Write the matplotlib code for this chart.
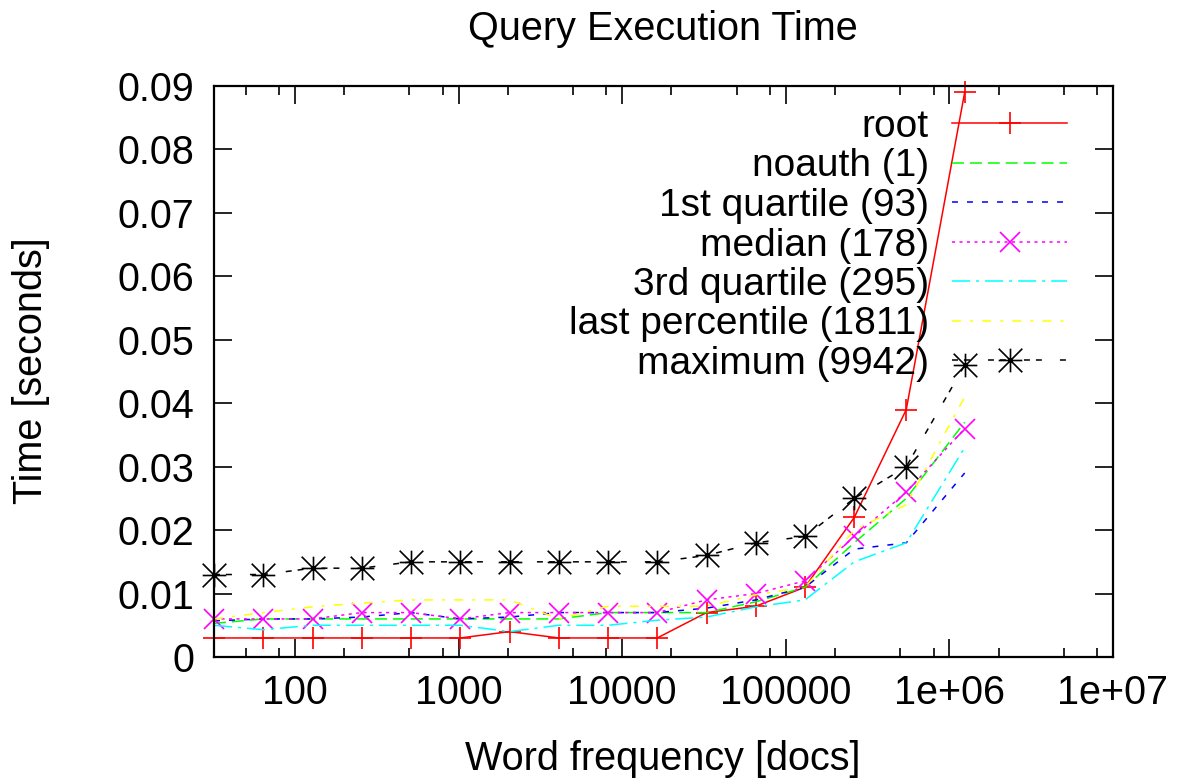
import matplotlib
matplotlib.use("Agg")
import matplotlib.pyplot as plt
from matplotlib.path import Path
from matplotlib.ticker import LogLocator, NullFormatter, FixedLocator

plt.rcParams['font.family'] = ['Liberation Sans', 'DejaVu Sans']
plt.rcParams['lines.scale_dashes'] = False

# word frequency bins (docs)
freq = [32, 64, 128, 256, 512, 1024, 2048, 4096, 8192, 16384, 32768,
        65536, 131072, 262144, 545000, 1240000]

# query times in seconds
root = [0.003, 0.003, 0.003, 0.003, 0.003, 0.003, 0.004, 0.003, 0.003, 0.003,
        0.007, 0.008, 0.011, 0.022, 0.039, 0.089]
noauth = [0.0053, 0.006, 0.006, 0.006, 0.006, 0.006, 0.006, 0.006, 0.007, 0.007,
          0.007, 0.0087, 0.011, 0.018, 0.025, 0.037]
q1 = [0.0057, 0.006, 0.006, 0.0063, 0.007, 0.006, 0.0063, 0.007, 0.007, 0.007,
      0.0077, 0.009, 0.011, 0.017, 0.018, 0.029]
median = [0.006, 0.006, 0.006, 0.007, 0.007, 0.006, 0.007, 0.007, 0.007, 0.007,
          0.009, 0.010, 0.012, 0.019, 0.026, 0.036]
q3 = [0.005, 0.0043, 0.005, 0.005, 0.005, 0.005, 0.004, 0.005, 0.005, 0.0058,
      0.0063, 0.0079, 0.009, 0.015, 0.018, 0.033]
p99 = [0.006, 0.007, 0.0079, 0.0085, 0.009, 0.009, 0.009, 0.006, 0.008, 0.008,
       0.008, 0.0098, 0.011, 0.020, 0.024, 0.041]
maximum = [0.013, 0.013, 0.014, 0.014, 0.015, 0.015, 0.015, 0.015, 0.015, 0.015,
           0.016, 0.018, 0.019, 0.025, 0.030, 0.046]

labels = ['root', 'noauth (1)', '1st quartile (93)', 'median (178)',
          '3rd quartile (295)', 'last percentile (1811)', 'maximum (9942)']

xticks = [100, 1000, 10000, 100000, 1e6, 1e7]
xticklabels = ['100', '1000', '10000', '100000', '1e+06', '1e+07']
yticks = [0, 0.01, 0.02, 0.03, 0.04, 0.05, 0.06, 0.07, 0.08, 0.09]
yticklabels = ['0', '0.01', '0.02', '0.03', '0.04', '0.05', '0.06', '0.07', '0.08', '0.09']

# gnuplot style asterisk = plus + cross
star = Path([(-1, 0), (1, 0), (0, -1), (0, 1), (-1, -1), (1, 1), (-1, 1), (1, -1)],
            [Path.MOVETO, Path.LINETO] * 4)

W, H = 1184, 779
fig = plt.figure(figsize=(W / 100, H / 100), dpi=100)
ax = fig.add_axes([214 / W, 1 - 657 / H, (1113 - 214) / W, (657 - 86) / H])

FS = 28.5
lw = 1.1
ax.plot(freq, root, color='#ff0000', lw=lw, marker='+', ms=16, mew=1.2,
        label=labels[0], clip_on=False)
ax.plot(freq, noauth, color='#00ff00', lw=lw, dashes=(8.6, 4.3), label=labels[1])
ax.plot(freq, q1, color='#0000ff', lw=lw, dashes=(4.3, 6.5), label=labels[2])
ax.plot(freq, median, color='#ff00ff', lw=lw, dashes=(2.2, 3.2), marker='x', ms=14,
        mew=1.2, label=labels[3], clip_on=False)
ax.plot(freq, q3, color='#00ffff', lw=lw, dashes=(13, 4.3, 2.2, 4.3), label=labels[4])
ax.plot(freq, p99, color='#ffff00', lw=lw, dashes=(6.5, 6.5, 2.2, 6.5), label=labels[5])
ax.plot(freq, maximum, color='#000000', lw=lw, dashes=(4.3, 4.3, 4.3, 13), marker=star,
        ms=17, mew=1.2, label=labels[6], clip_on=False)

ax.set_xscale('log')
ax.set_xlim(32, 1e7)
ax.set_ylim(0, 0.09)
ax.xaxis.set_major_locator(FixedLocator(xticks))
ax.set_xticklabels(xticklabels)
ax.xaxis.set_minor_locator(LogLocator(base=10, subs=(2, 5, 8)))
ax.xaxis.set_minor_formatter(NullFormatter())
ax.set_yticks(yticks)
ax.set_yticklabels(yticklabels)

ax.tick_params(which='both', direction='in', top=True, right=True, labelsize=FS)
ax.tick_params(which='major', length=13, width=1.2)
ax.tick_params(which='minor', length=6.5, width=1.2)
ax.tick_params(axis='x', pad=12)
ax.tick_params(axis='y', pad=14)
for s in ax.spines.values():
    s.set_linewidth(1.6)

fig.text(663 / W, 1 - 40 / H, 'Query Execution Time', ha='center', va='baseline', fontsize=FS)
fig.text(663 / W, 1 - 770 / H, 'Word frequency [docs]', ha='center', va='baseline', fontsize=FS)
fig.text(31 / W, 1 - 371 / H, 'Time [seconds]', ha='center', va='center',
         rotation=90, fontsize=FS)

ax.legend(loc='upper right', bbox_to_anchor=(1067 / W, 1 - 109 / H),
          bbox_transform=fig.transFigure, frameon=False, markerfirst=False,
          numpoints=1, handlelength=2.95, handletextpad=0.6, labelspacing=0.09,
          borderpad=0, borderaxespad=0, fontsize=28)

fig.savefig('out.png', dpi=100)
